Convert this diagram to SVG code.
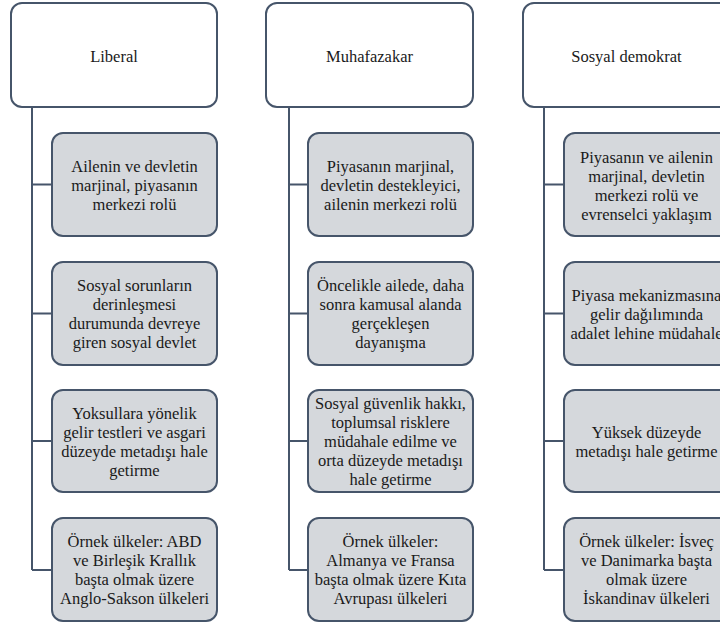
<svg xmlns="http://www.w3.org/2000/svg" width="720" height="625" viewBox="0 0 720 625" font-family="Liberation Serif, DejaVu Serif, serif">
<style>
.hdr{fill:#ffffff;stroke:#46556a;stroke-width:2}
.box{fill:#d5d8dc;stroke:#46556a;stroke-width:2}
.conn{fill:none;stroke:#46556a;stroke-width:2}
.t{font-size:16.5px;fill:#1a1a1a;text-anchor:middle}
</style>
<rect width="720" height="625" fill="#ffffff"/>
<g id="connectors">
<path class="conn" d="M32,107 V570 M32,184.5 H52 M32,313.5 H52 M32,441 H52 M32,570 H52"/>
<path class="conn" d="M289,107 V570 M289,184.5 H308 M289,313.5 H308 M289,441 H308 M289,570 H308"/>
<path class="conn" d="M544,107 V570 M544,184.5 H564 M544,313.5 H564 M544,441 H564 M544,570 H564"/>
</g>
<g id="liberal">
<rect class="hdr" x="11" y="3" width="206" height="104" rx="11"/>
<text class="t" font-family="Liberation Serif, serif" x="114" y="62">Liberal</text>
</g>
<g id="lib1">
<rect class="box" x="52" y="133" width="165" height="103" rx="11"/>
<text class="t" font-family="Liberation Serif, serif"><tspan x="134.5" y="172">Ailenin ve devletin</tspan><tspan x="134.5" y="191">marjinal, piyasanın</tspan><tspan x="134.5" y="210">merkezi rolü</tspan></text>
</g>
<g id="lib2">
<rect class="box" x="52" y="262" width="165" height="103" rx="11"/>
<text class="t" font-family="Liberation Serif, serif"><tspan x="134.5" y="291">Sosyal sorunların</tspan><tspan x="134.5" y="310">derinleşmesi</tspan><tspan x="134.5" y="329">durumunda devreye</tspan><tspan x="134.5" y="348">giren sosyal devlet</tspan></text>
</g>
<g id="lib3">
<rect class="box" x="52" y="390" width="165" height="102" rx="11"/>
<text class="t" font-family="Liberation Serif, serif"><tspan x="134.5" y="418.5">Yoksullara yönelik</tspan><tspan x="134.5" y="437.5">gelir testleri ve asgari</tspan><tspan x="134.5" y="456.5">düzeyde metadışı hale</tspan><tspan x="134.5" y="475.5">getirme</tspan></text>
</g>
<g id="lib4">
<rect class="box" x="52" y="518" width="165" height="103" rx="11"/>
<text class="t" font-family="Liberation Serif, serif"><tspan x="134.5" y="547">Örnek ülkeler: ABD</tspan><tspan x="134.5" y="566">ve Birleşik Krallık</tspan><tspan x="134.5" y="585">başta olmak üzere</tspan><tspan x="134.5" y="604">Anglo-Sakson ülkeleri</tspan></text>
</g>
<g id="muhafazakar">
<rect class="hdr" x="266" y="3" width="207" height="104" rx="11"/>
<text class="t" font-family="Liberation Serif, serif" x="369.5" y="62">Muhafazakar</text>
</g>
<g id="muh1">
<rect class="box" x="308" y="133" width="165" height="103" rx="11"/>
<text class="t" font-family="Liberation Serif, serif"><tspan x="390.5" y="172">Piyasanın marjinal,</tspan><tspan x="390.5" y="191">devletin destekleyici,</tspan><tspan x="390.5" y="210">ailenin merkezi rolü</tspan></text>
</g>
<g id="muh2">
<rect class="box" x="308" y="262" width="165" height="103" rx="11"/>
<text class="t" font-family="Liberation Serif, serif"><tspan x="390.5" y="291">Öncelikle ailede, daha</tspan><tspan x="390.5" y="310">sonra kamusal alanda</tspan><tspan x="390.5" y="329">gerçekleşen</tspan><tspan x="390.5" y="348">dayanışma</tspan></text>
</g>
<g id="muh3">
<rect class="box" x="308" y="390" width="165" height="102" rx="11"/>
<text class="t" font-family="Liberation Serif, serif"><tspan x="390.5" y="409">Sosyal güvenlik hakkı,</tspan><tspan x="390.5" y="428">toplumsal risklere</tspan><tspan x="390.5" y="447">müdahale edilme ve</tspan><tspan x="390.5" y="466">orta düzeyde metadışı</tspan><tspan x="390.5" y="485">hale getirme</tspan></text>
</g>
<g id="muh4">
<rect class="box" x="308" y="518" width="165" height="103" rx="11"/>
<text class="t" font-family="Liberation Serif, serif"><tspan x="390.5" y="547">Örnek ülkeler:</tspan><tspan x="390.5" y="566">Almanya ve Fransa</tspan><tspan x="390.5" y="585">başta olmak üzere Kıta</tspan><tspan x="390.5" y="604">Avrupası ülkeleri</tspan></text>
</g>
<g id="sosyal-demokrat">
<rect class="hdr" x="523" y="3" width="207" height="104" rx="11"/>
<text class="t" font-family="Liberation Serif, serif" x="626.5" y="62">Sosyal demokrat</text>
</g>
<g id="sd1">
<rect class="box" x="564" y="133" width="166" height="103" rx="11"/>
<text class="t" font-family="Liberation Serif, serif"><tspan x="646.5" y="162.5">Piyasanın ve ailenin</tspan><tspan x="646.5" y="181.5">marjinal, devletin</tspan><tspan x="646.5" y="200.5">merkezi rolü ve</tspan><tspan x="646.5" y="219.5">evrenselci yaklaşım</tspan></text>
</g>
<g id="sd2">
<rect class="box" x="564" y="262" width="166" height="103" rx="11"/>
<text class="t" font-family="Liberation Serif, serif"><tspan x="646.5" y="300.5">Piyasa mekanizmasına</tspan><tspan x="646.5" y="319.5">gelir dağılımında</tspan><tspan x="646.5" y="338.5">adalet lehine müdahale</tspan></text>
</g>
<g id="sd3">
<rect class="box" x="564" y="390" width="166" height="102" rx="11"/>
<text class="t" font-family="Liberation Serif, serif"><tspan x="646.5" y="437.5">Yüksek düzeyde</tspan><tspan x="646.5" y="456.5">metadışı hale getirme</tspan></text>
</g>
<g id="sd4">
<rect class="box" x="564" y="518" width="166" height="103" rx="11"/>
<text class="t" font-family="Liberation Serif, serif"><tspan x="646.5" y="547">Örnek ülkeler: İsveç</tspan><tspan x="646.5" y="566">ve Danimarka başta</tspan><tspan x="646.5" y="585">olmak üzere</tspan><tspan x="646.5" y="604">İskandinav ülkeleri</tspan></text>
</g>
</svg>
